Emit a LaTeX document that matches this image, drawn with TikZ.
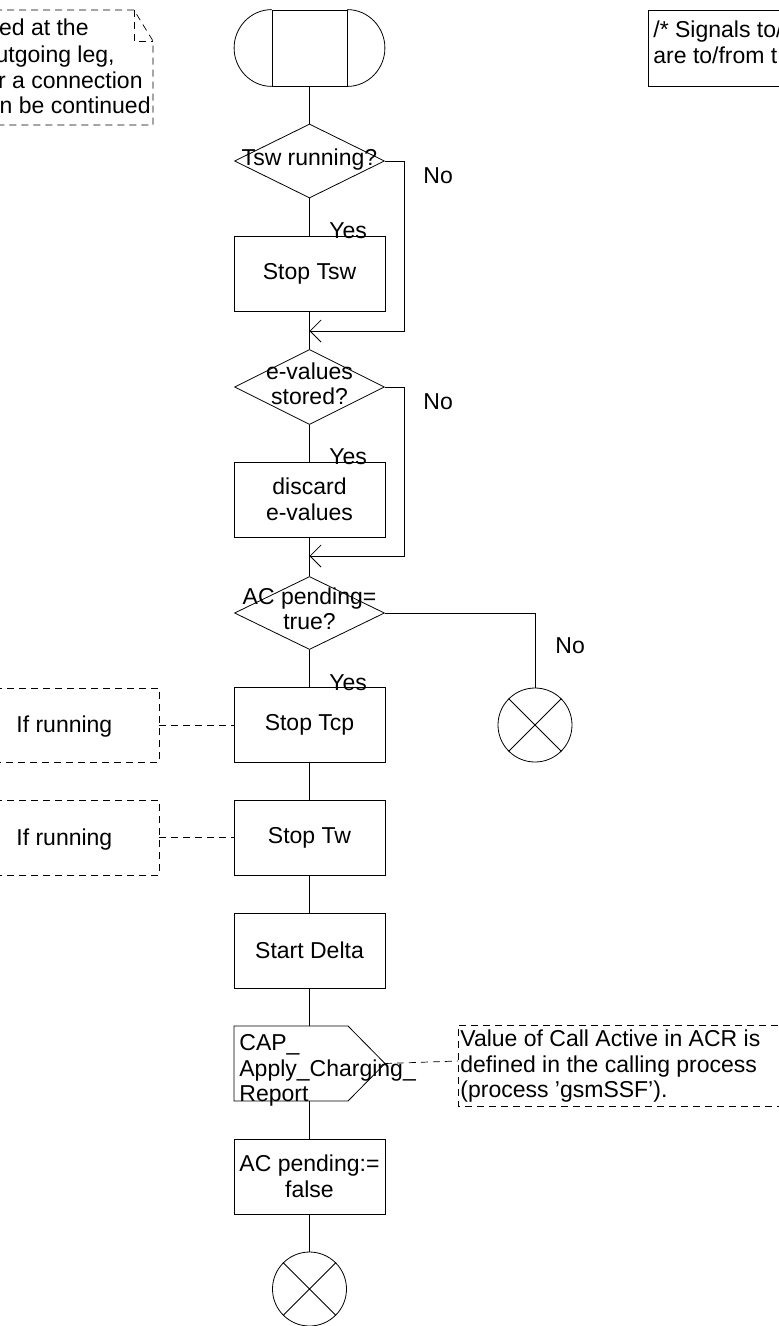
\documentclass[tikz,border=0pt]{standalone}
\usepackage{fontspec}
\setmainfont{Liberation Sans}
\usetikzlibrary{arrows.meta,shapes.geometric,calc}
\begin{document}
\begin{tikzpicture}[x=1pt,y=-1pt,line width=0.8pt,
  every node/.style={font=\fontsize{23}{25.5}\selectfont,inner sep=0pt},
  task/.style={draw,rectangle,minimum width=151pt,minimum height=75pt,align=center},
  dec/.style={draw,diamond,minimum width=150pt,minimum height=74pt},
  term/.style={draw,circle,minimum size=74pt},
  notebox/.style={draw,dash pattern=on 7pt off 5pt,line width=0.7pt},
  lbl/.style={anchor=base west},
  merge/.style={-{Straight Barb[length=11pt,width=22pt,line width=0.8pt]}}]
\useasboundingbox (0,0) rectangle (779,1326);

% start symbol
\node[draw,minimum width=75pt,minimum height=76pt] (start) at (309.5,48) {};
\draw (start.north west) .. controls +(-20.7,0) and +(0,-21) .. ($(start.west)+(-37.5,0)$)
      .. controls +(0,21) and +(-20.7,0) .. (start.south west);
\draw (start.north east) .. controls +(20.7,0) and +(0,-21) .. ($(start.east)+(37.5,0)$)
      .. controls +(0,21) and +(20.7,0) .. (start.south east);

% main column
\node[dec] (d1) at (309.5,161) {};
\node at (309.5,160) {Tsw running?};
\node[task] (b1) at (309.5,274) {Stop Tsw};
\coordinate (j1) at (309.5,331);
\coordinate (r1) at (404,331);
\node[dec,minimum height=75pt] (d2) at (309.5,387) {};
\node[align=center] at (309.5,384) {e-values\\stored?};
\node[task] (b2) at (309.5,499.5) {discard\\e-values};
\coordinate (j2) at (309.5,556);
\coordinate (r2) at (404,556);
\node[dec,minimum height=73pt] (d3) at (309.5,613) {};
\node[align=center] at (309.5,609) {AC pending=\\true?};
\node[task] (b3) at (309.5,725) {Stop Tcp};
\node[term] (e1) at (535,725) {};
\node[task] (b4) at (309.5,837.5) {Stop Tw};
\node[task] (b5) at (309.5,950.5) {Start Delta};
% output signal
\coordinate (capnw) at (234,1026);
\coordinate (capn) at (309.5,1026);
\coordinate (capne) at (348,1026);
\coordinate (captip) at (385,1063.5);
\coordinate (capse) at (348,1101);
\coordinate (caps) at (309.5,1101);
\coordinate (capsw) at (234,1101);
\draw (capnw) -- (capne) -- (captip) -- (capse) -- (capsw) -- cycle;
\node[anchor=north west,align=left] (captext) at (239,1034.5) {CAP\_\\Apply\_Charging\_\\Report};
\node[task] (b6) at (309.5,1176.5) {AC pending:=\\false};
\node[term] (e2) at (309.5,1289) {};

% crosses in terminators
\draw (e1.north west) -- (e1.south east) (e1.north east) -- (e1.south west);
\draw (e2.north west) -- (e2.south east) (e2.north east) -- (e2.south west);

% connectors
\draw (start.south) -- (d1.north);
\draw (d1.south) -- (b1.north);
\draw (b1.south) -- (d2.north);
\draw (d2.south) -- (b2.north);
\draw (b2.south) -- (d3.north);
\draw (d3.south) -- (b3.north);
\draw (b3.south) -- (b4.north);
\draw (b4.south) -- (b5.north);
\draw (b5.south) -- (capn);
\draw (caps) -- (b6.north);
\draw (b6.south) -- (e2.north);
\draw[merge] (d1.east) -| (r1) -- (j1);
\draw[merge] (d2.east) -| (r2) -- (j2);
\draw (d3.east) -| (e1.north);

% labels
\node[lbl] at (423,183) {No};
\node[lbl] at (423,409) {No};
\node[lbl] at (555,653) {No};
\node[lbl] at (329,238) {Yes};
\node[lbl] at (329,464) {Yes};
\node[lbl] at (329,690) {Yes};

% "If running" comments
\draw[notebox] (-5,688) -- (159,688) -- (159,762) -- (-5,762);
\coordinate (c1) at (159,725);
\node[lbl] at (16,732) {If running};
\draw[notebox] (c1) -- (b3.west);
\draw[notebox] (-5,800) -- (159,800) -- (159,875) -- (-5,875);
\coordinate (c2) at (159,837.5);
\node[lbl] at (16,845) {If running};
\draw[notebox] (c2) -- (b4.west);

% comment on output signal
\draw[notebox] (790,1025) -- (458,1025) -- (458,1106) -- (790,1106);
\coordinate (c3) at (458,1061);
\draw[notebox] (captip) -- (c3);
\node[anchor=north west,align=left] at (460,1029.5) {Value of Call Active in ACR is\\defined in the calling process\\(process 'gsmSSF').};

% top-left note (cut off)
\draw[notebox] (-5,10) -- (134,10) -- (153,41) -- (153,125) -- (-5,125);
\draw[notebox] (134,10) -- (134,41) -- (153,41);
\node[anchor=base east] at (89,35) {ed at the};
\node[anchor=base east] at (115,62) {utgoing leg,};
\node[anchor=base east] at (143,88) {r a connection};
\node[anchor=base east] at (151,113) {n be continued};

% top-right text symbol (cut off)
\draw[line width=0.7pt] (790,10) -- (648,10) -- (648,86) -- (790,86);
\node[anchor=north west,align=left] at (653,20.5) {/* Signals to/\\are to/from t};
\end{tikzpicture}
\end{document}
